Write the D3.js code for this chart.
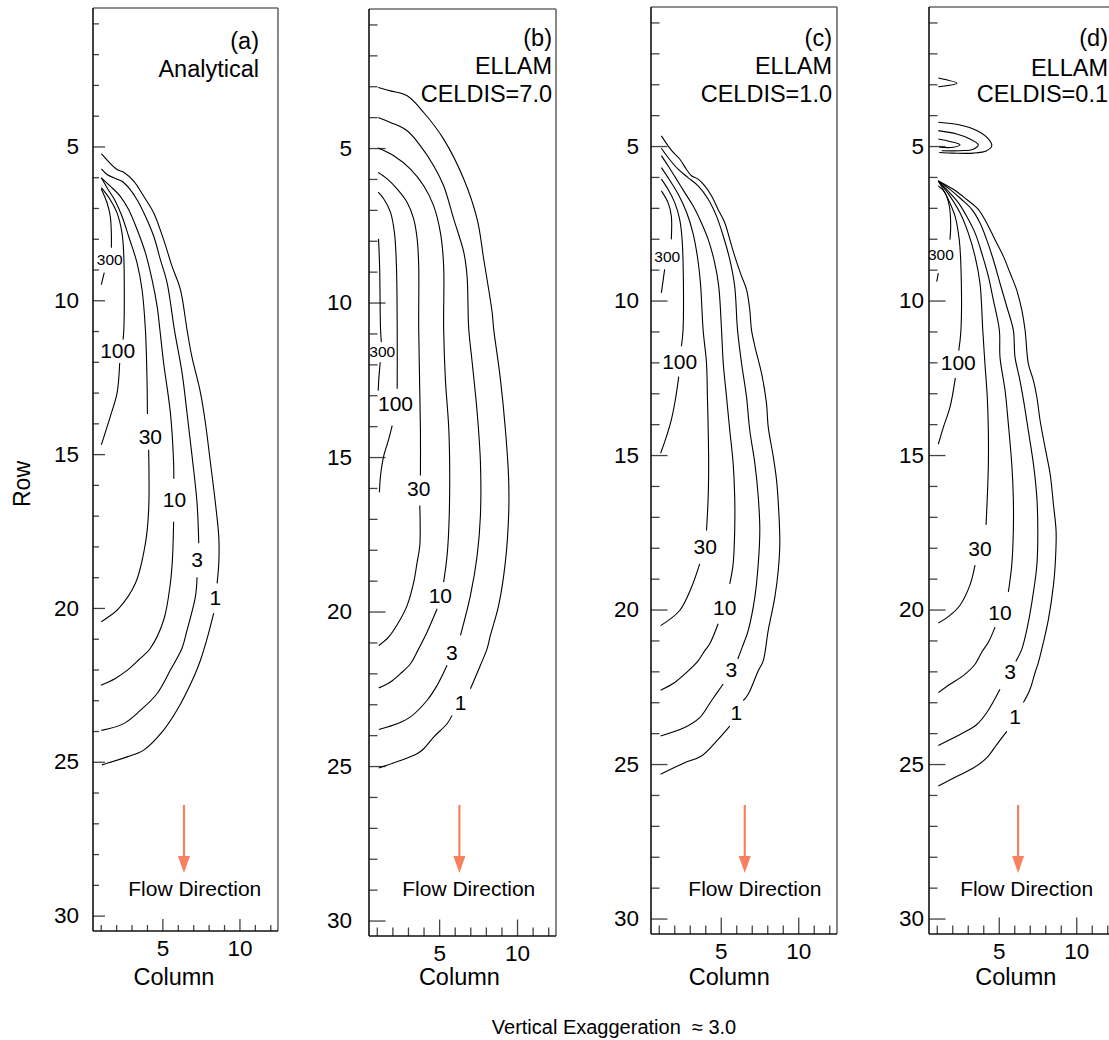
<!DOCTYPE html>
<html><head><meta charset="utf-8">
<script src="https://cdn.jsdelivr.net/npm/d3@7"></script>
<style>
body{margin:0;background:#fff}
svg{display:block}
text{font-family:"Liberation Sans",Arial,Helvetica,sans-serif;fill:#000}
</style>
</head><body>
<svg id="chart" width="1109" height="1040"></svg>
<script>
// ---------------- DATA ----------------
const rowTickValues = [1,2,3,4,5,6,7,8,9,10,11,12,13,14,15,16,17,18,19,20,21,22,23,24,25,26,27,28,29,30];
const rowTickLabels = [5,10,15,20,25,30];
const colTickValues = [1,2,3,4,5,6,7,8,9,10,11,12];
const colTickLabels = [5,10];
const contourLevels = [1,3,10,30,100,300];

const titleA = ["(a)","Analytical"];
const titleB = ["(b)","ELLAM","CELDIS=7.0"];
const titleC = ["(c)","ELLAM","CELDIS=1.0"];
const titleD = ["(d)","ELLAM","CELDIS=0.1"];

// contour polylines: [column,row]; null = gap for the label
const contoursA = [
 {level:1, pts:[[1.04,5.23],[2.06,5.75],[2.49,5.84],[3.14,6.13],[3.79,6.62],[4.44,7.16],[5.08,8.03],[5.63,8.9],[6.17,9.65],[6.6,10.96],[6.9,11.8],[7.47,13.0],[7.79,13.98],[8.12,15.29],[8.44,16.59],[8.66,17.7],[8.66,18.54],[8.55,19.2],null,[8.33,20.17],[7.9,21.0],[7.47,21.7],[7.03,22.25],[5.95,23.32],[5.08,23.97],[3.79,24.62],[2.71,24.84],[1.08,25.1]]},
 {level:3, pts:[[1.04,5.73],[1.41,5.91],[1.95,6.04],[2.38,6.13],[2.81,6.34],[3.36,6.73],[3.9,7.27],[4.44,7.92],[4.87,8.68],[5.31,9.44],[5.78,10.96],[6.28,12.37],[6.6,13.67],[6.93,15.08],[7.25,16.6],[7.36,17.9],null,[7.25,19.0],[7.14,19.64],[6.6,20.72],[6.28,21.3],[5.52,22.02],[4.66,22.78],[3.57,23.33],[2.49,23.76],[1.04,23.98]]},
 {level:10, pts:[[1.04,6.02],[1.62,6.29],[2.27,6.62],[2.81,7.05],[3.36,7.7],[3.9,8.46],[4.33,9.33],[4.66,10.2],[4.84,10.96],[5.08,12.03],[5.52,13.66],[5.73,15.29],[5.74,15.8],null,[5.73,17.2],[5.65,18.44],[5.52,19.19],[5.08,20.4],[4.22,21.31],[3.44,21.7],[2.71,22.03],[1.95,22.29],[1.02,22.51]]},
 {level:30, pts:[[1.04,6.02],[1.41,6.34],[1.95,6.78],[2.38,7.27],[2.81,7.92],[3.36,8.79],[3.68,9.65],[3.9,10.96],[4.0,12.5],[4.03,13.7],null,[4.11,14.86],[4.11,16.82],[3.9,17.9],[3.25,19.2],[2.16,20.02],[1.04,20.45]]},
 {level:100, pts:[[1.04,6.34],[1.62,6.73],[2.06,7.16],[2.38,7.81],[2.49,8.46],[2.53,9.7],[2.5,10.96],[2.45,11.28],null,[2.23,12.04],[2.06,13.02],[1.62,13.78],[1.04,14.7]]},
 {level:300, pts:[[1.04,6.38],[1.41,6.83],[1.62,7.27],[1.69,7.81],[1.69,8.29],null,[1.23,9.1],[1.04,9.49]]}
];
const labelsA = [
 {text:"300", col:1.59, row:8.68},{text:"100", col:2.1, row:11.64},{text:"30", col:4.22, row:14.43},
 {text:"10", col:5.78, row:16.49},{text:"3", col:7.25, row:18.44},{text:"1", col:8.44, row:19.65}
];

const contoursB = [
 {level:1, pts:[[1.09,3.04],[1.88,3.15],[2.95,3.31],[4.01,3.85],[5.29,4.71],[6.58,6.0],[7.44,7.3],[7.86,8.59],[8.4,10.31],[8.5,10.85],[8.93,12.47],[9.25,14.09],[9.46,15.7],[9.46,16.89],[9.25,18.4],[8.82,19.8],[8.29,20.77],[8.08,21.2],[7.65,21.74],[7.01,22.5],null,[5.83,23.36],[5.51,23.63],[4.65,24.06],[4.01,24.44],[3.59,24.6],[2.52,24.82],[1.13,25.06]]},
 {level:3, pts:[[1.09,4.01],[1.88,4.17],[2.95,4.44],[3.8,4.93],[4.65,5.57],[5.29,6.22],[5.94,7.3],[6.58,8.37],[6.79,9.13],[6.9,10.85],[7.12,11.93],[7.44,13.55],[7.65,15.17],[7.65,16.89],[7.44,18.19],[7.01,19.48],[6.37,20.77],null,[5.51,21.74],[4.87,22.39],[4.23,22.87],[3.16,23.41],[2.31,23.63],[1.13,23.82]]},
 {level:10, pts:[[1.09,5.0],[2.09,5.25],[3.16,5.68],[4.01,6.22],[4.65,6.87],[5.08,7.73],[5.29,8.81],[5.29,10.85],[5.4,12.47],[5.62,14.09],[5.68,15.7],[5.62,17.32],[5.51,18.19],[5.29,19.05],null,[4.87,19.91],[4.23,20.66],[3.69,21.2],[3.16,21.69],[2.52,22.01],[1.88,22.28],[1.13,22.47]]},
 {level:30, pts:[[1.09,5.79],[1.67,6.0],[2.31,6.33],[2.95,6.76],[3.37,7.3],[3.59,7.94],[3.69,8.81],[3.69,10.85],[3.8,14.09],[3.8,15.6],null,[3.76,16.57],[3.76,17.86],[3.59,18.4],[3.37,19.05],[2.95,19.8],[2.41,20.34],[1.77,20.82],[1.13,21.1]]},
 {level:100, pts:[[1.09,6.43],[1.45,6.65],[1.88,7.08],[2.13,7.73],[2.26,8.81],[2.31,10.85],[2.31,12.79],null,[1.99,13.98],[1.71,14.52],[1.45,14.95],[1.24,15.6],[1.17,16.14]]},
 {level:300, pts:[[1.11,7.94],[1.18,8.81],[1.24,10.85],[1.29,11.28],null,[1.22,11.93],[1.13,12.47],[1.09,12.85]]}
];
const labelsB = [
 {text:"300", col:1.35, row:11.59},{text:"100", col:2.2, row:13.28},{text:"30", col:3.69, row:16.03},
 {text:"10", col:5.08, row:19.48},{text:"3", col:5.81, row:21.31},{text:"1", col:6.37, row:22.93}
];

const contoursC = [
 {level:1, pts:[[1.17,4.67],[1.6,4.99],[1.92,5.2],[2.35,5.42],[2.78,5.75],[3.11,5.96],[3.54,6.07],[3.97,6.29],[4.4,6.61],[4.83,7.05],[5.26,7.48],[5.58,8.02],[5.9,8.56],[6.34,9.21],[6.66,9.64],[6.87,10.29],[6.98,10.94],[7.2,11.48],[7.63,12.35],[7.95,13.32],[8.06,14.08],[8.39,15.06],[8.6,15.81],[8.75,16.89],[8.81,17.87],[8.71,18.73],[8.49,19.6],[8.06,20.68],[7.74,21.66],[7.42,21.98],[6.77,22.74],[6.45,22.95],null,[5.58,23.77],[4.83,24.2],[3.75,24.74],[2.67,24.96],[1.12,25.33]]},
 {level:3, pts:[[1.17,5.07],[1.6,5.37],[2.25,5.75],[2.89,6.02],[3.54,6.29],[4.19,6.72],[4.72,7.26],[5.16,7.91],[5.58,8.67],[5.9,9.54],[6.08,10.94],[6.34,12.02],[6.66,13.11],[6.87,14.19],[7.2,15.27],[7.42,16.35],[7.52,17.44],[7.42,18.52],[7.2,19.6],[6.77,20.68],[6.4,21.2],[6.1,21.6],null,[5.16,22.41],[4.4,22.95],[3.64,23.5],[2.67,23.82],[1.12,24.09]]},
 {level:10, pts:[[1.17,5.31],[1.6,5.64],[2.14,6.07],[2.67,6.5],[3.22,6.94],[3.75,7.48],[4.19,8.02],[4.61,8.78],[4.87,9.54],[5.05,10.94],[5.16,12.02],[5.37,13.11],[5.58,14.19],[5.8,15.27],[5.9,16.35],[5.9,17.44],[5.8,18.52],[5.58,19.17],null,[4.83,20.46],[4.29,21.11],[3.97,21.33],[3.54,21.66],[2.67,22.09],[2.03,22.36],[1.12,22.61]]},
 {level:30, pts:[[1.17,5.7],[1.7,6.1],[2.3,6.6],[2.8,7.15],[3.2,7.8],[3.5,8.6],[3.7,9.5],[3.86,10.94],[4.08,12.02],[4.14,13.11],[4.19,14.19],[4.22,15.27],[4.19,16.35],[4.08,17.44],null,[3.64,18.52],[3.11,19.28],[2.35,20.03],[1.12,20.52]]},
 {level:100, pts:[[1.17,6.07],[1.6,6.4],[2.03,6.83],[2.35,7.37],[2.52,8.13],[2.57,10.94],[2.46,11.48],null,[2.29,12.46],[2.07,13.21],[1.81,13.86],[1.49,14.41],[1.12,14.94]]},
 {level:300, pts:[[1.17,6.45],[1.6,6.83],[1.81,7.26],[1.81,8.02],null,[1.38,8.99],[1.17,9.75]]}
];
const labelsC = [
 {text:"300", col:1.55, row:8.59},{text:"100", col:2.35, row:11.97},{text:"30", col:4.0, row:17.95},
 {text:"10", col:5.26, row:19.93},{text:"3", col:5.69, row:21.93},{text:"1", col:6.01, row:23.33}
];

const contoursD = [
 {level:1, pts:[[1.1,6.13],[2.07,6.4],[2.93,6.73],[3.68,7.05],[4.22,7.49],[4.76,8.03],[5.3,8.57],[5.73,9.11],[6.16,9.66],[6.49,10.31],[6.7,10.96],[6.91,12.05],[7.24,12.59],[7.46,13.13],[7.67,13.89],[7.99,14.76],[8.32,15.63],[8.53,16.61],[8.7,17.48],[8.64,18.56],[8.53,19.21],[8.21,20.3],[7.88,21.06],[7.56,21.71],[7.35,22.03],[7.02,22.58],[6.59,23.01],null,[5.52,23.94],[4.87,24.37],[4.22,24.8],[3.36,25.13],[2.28,25.4],[1.1,25.71]]},
 {level:3, pts:[[1.1,6.13],[1.85,6.4],[2.61,6.73],[3.26,7.05],[3.79,7.49],[4.22,8.03],[4.65,8.68],[5.08,9.44],[5.52,10.2],[5.94,10.96],[6.05,11.83],[6.37,12.59],[6.64,13.35],[6.91,14.22],[7.24,15.3],[7.46,16.39],[7.52,17.48],[7.46,18.56],[7.24,19.43],[6.91,20.41],[6.49,21.28],[6.1,21.68],null,[5.08,22.58],[4.22,23.34],[3.58,23.72],[2.71,23.99],[1.1,24.4]]},
 {level:10, pts:[[1.1,6.13],[1.74,6.46],[2.39,6.83],[2.93,7.27],[3.47,7.81],[3.9,8.46],[4.33,9.22],[4.65,9.98],[5.04,10.96],[5.08,11.83],[5.41,12.92],[5.62,14.0],[5.84,15.3],[5.94,16.39],[5.94,17.48],[5.84,18.56],[5.62,19.43],null,[4.76,20.57],[4.33,21.06],[3.9,21.38],[3.47,21.77],[2.71,22.14],[1.85,22.42],[1.1,22.69]]},
 {level:30, pts:[[1.1,6.13],[1.85,6.62],[2.5,7.16],[3.03,7.81],[3.47,8.57],[3.79,9.44],[3.97,10.96],[4.11,12.05],[4.26,13.13],[4.33,14.22],[4.33,15.3],[4.26,16.39],[4.18,17.26],null,[3.47,18.56],[3.14,19.21],[2.5,19.86],[1.85,20.19],[1.1,20.44]]},
 {level:100, pts:[[1.1,6.13],[1.64,6.62],[2.18,7.27],[2.45,8.03],[2.56,8.9],[2.56,10.96],[2.42,11.62],null,[2.2,12.5],[1.85,13.46],[1.42,14.11],[1.1,14.65]]},
 {level:300, pts:[[1.1,6.29],[1.53,6.51],[1.81,6.94],[1.9,7.6],[1.85,8.03],null,[1.1,9.11],[1.0,9.39]]},
 {level:1, pts:[[1.1,2.8],[2.3,2.97],[1.1,3.08]]},
 {level:1, pts:[[1.1,4.23],[2.5,4.32],[3.58,4.5],[4.33,4.77],[4.55,4.99],[4.22,5.15],[3.36,5.23],[2.07,5.23],[1.16,5.21]]},
 {level:3, pts:[[1.1,4.5],[2.29,4.61],[3.14,4.77],[3.68,4.96],[3.36,5.1],[2.5,5.15],[1.32,5.15]]},
 {level:10, pts:[[1.1,4.77],[1.85,4.85],[2.5,4.96],[2.07,5.04],[1.16,5.04]]}
];
const labelsD = [
 {text:"300", col:1.27, row:8.5},{text:"100", col:2.39, row:12.01},{text:"30", col:3.79, row:18.02},
 {text:"10", col:5.08, row:20.08},{text:"3", col:5.73, row:22.0},{text:"1", col:6.05, row:23.45}
];

const flowText = "Flow Direction";
const xTitle = "Column";
const yTitle = "Row";
const footnote = "Vertical Exaggeration  \u2248 3.0";

// ---------------- LAYOUT (positions/styles) ----------------
const panels = [
 {title:titleA, contours:contoursA, labels:labelsA, left:93,  right:278,  top:8, bottom:931, minor:6,   major:12,   yGap:14, titleRight:259,  titleBase:[49,77],      colTitleCol:5.75, arrowCol:6.4,  flowCol:7.1},
 {title:titleB, contours:contoursB, labels:labelsB, left:369, right:556,  top:9, bottom:936, minor:8.5, major:16.5, yGap:17, titleRight:552,  titleBase:[46,74,102],  colTitleCol:6.3,  arrowCol:6.3,  flowCol:6.9},
 {title:titleC, contours:contoursC, labels:labelsC, left:651, right:837,  top:7, bottom:934, minor:8.5, major:16.5, yGap:12, titleRight:832,  titleBase:[46,74,102],  colTitleCol:5.55, arrowCol:6.55, flowCol:7.2},
 {title:titleD, contours:contoursD, labels:labelsD, left:929, right:1115, top:7, bottom:934, minor:8.5, major:16.5, yGap:5,  titleRight:1108, titleBase:[46,76,102],  colTitleCol:6.1,  arrowCol:6.25, flowCol:6.8}
];
const FONT = '"Liberation Sans",Arial,Helvetica,sans-serif';
const arrowColor = "#F8805F";

const svg = d3.select("#chart");

panels.forEach(p => {
  const x = d3.scaleLinear().domain([0.5,12.5]).range([p.left,p.right]);
  const y = d3.scaleLinear().domain([0.5,30.5]).range([p.top,p.bottom]);
  const g = svg.append("g");

  g.append("line").attr("x1",p.left).attr("x2",p.right).attr("y1",p.top).attr("y2",p.top)
    .attr("stroke","#6a6a6a").attr("stroke-width",1.6);
  g.append("line").attr("x1",p.right).attr("x2",p.right).attr("y1",p.top).attr("y2",p.bottom)
    .attr("stroke","#6a6a6a").attr("stroke-width",1.6);

  const minorRows = rowTickValues.filter(v => !rowTickLabels.includes(v));
  const yMinor = g.append("g").attr("transform",`translate(${p.left},0)`)
    .call(d3.axisLeft(y).tickValues(minorRows).tickSize(-p.minor).tickFormat(""));
  const yMajor = g.append("g").attr("transform",`translate(${p.left},0)`)
    .call(d3.axisLeft(y).tickValues(rowTickLabels).tickSize(-p.major).tickPadding(p.yGap).tickFormat(d3.format("d")));
  const minorCols = colTickValues.filter(v => !colTickLabels.includes(v));
  const xMinor = g.append("g").attr("transform",`translate(0,${p.bottom})`)
    .call(d3.axisBottom(x).tickValues(minorCols).tickSize(-p.minor).tickFormat(""));
  const xMajor = g.append("g").attr("transform",`translate(0,${p.bottom})`)
    .call(d3.axisBottom(x).tickValues(colTickLabels).tickSize(-p.major).tickPadding(9).tickFormat(d3.format("d")));

  [yMinor,yMajor,xMinor,xMajor].forEach(a => {
    a.select(".domain").remove();
    a.selectAll(".tick line").attr("stroke","#444").attr("stroke-width",1.3);
    a.selectAll(".tick text").attr("font-family",FONT).attr("font-size",22.5).attr("fill","#000");
  });

  g.append("line").attr("x1",p.left).attr("x2",p.left).attr("y1",p.top).attr("y2",p.bottom)
    .attr("stroke","#111").attr("stroke-width",1.6);
  g.append("line").attr("x1",p.left).attr("x2",p.right).attr("y1",p.bottom).attr("y2",p.bottom)
    .attr("stroke","#111").attr("stroke-width",1.6);

  const line = d3.line().defined(d => d !== null)
    .x(d => x(d[0])).y(d => y(d[1])).curve(d3.curveCatmullRom.alpha(0.5));
  g.append("g").selectAll("path").data(p.contours).join("path")
    .attr("d", d => line(d.pts))
    .attr("fill","none").attr("stroke","#000").attr("stroke-width",1.1)
    .attr("data-level", d => d.level);

  g.append("g").selectAll("text").data(p.labels).join("text")
    .attr("x", d => x(d.col)).attr("y", d => y(d.row))
    .attr("text-anchor","middle").attr("dominant-baseline","central")
    .attr("font-family",FONT)
    .attr("font-size", d => d.text === "300" ? 15.5 : 21)
    .text(d => d.text);

  g.append("g").selectAll("text").data(p.title).join("text")
    .attr("x", p.titleRight).attr("y", (d,i) => p.titleBase[i])
    .attr("text-anchor","end").attr("font-family",FONT).attr("font-size",23.5)
    .text(d => d);

  const ax = x(p.arrowCol);
  g.append("line").attr("x1",ax).attr("x2",ax).attr("y1",805).attr("y2",858)
    .attr("stroke",arrowColor).attr("stroke-width",2.2);
  g.append("path").attr("d",`M${ax-6},856 L${ax+6},856 L${ax},873 Z`).attr("fill",arrowColor);
  g.append("text").attr("x",x(p.flowCol)).attr("y",896).attr("text-anchor","middle")
    .attr("font-family",FONT).attr("font-size",21).text(flowText);

  g.append("text").attr("x",x(p.colTitleCol)).attr("y",985).attr("text-anchor","middle")
    .attr("font-family",FONT).attr("font-size",23.5).text(xTitle);
});

svg.append("text").attr("transform","translate(30,484) rotate(-90)")
  .attr("text-anchor","middle").attr("font-family",FONT).attr("font-size",23).text(yTitle);

svg.append("text").attr("x",614).attr("y",1034).attr("text-anchor","middle")
  .attr("font-family",FONT).attr("font-size",20).attr("xml:space","preserve")
  .style("white-space","pre").text(footnote);
</script>
</body></html>
